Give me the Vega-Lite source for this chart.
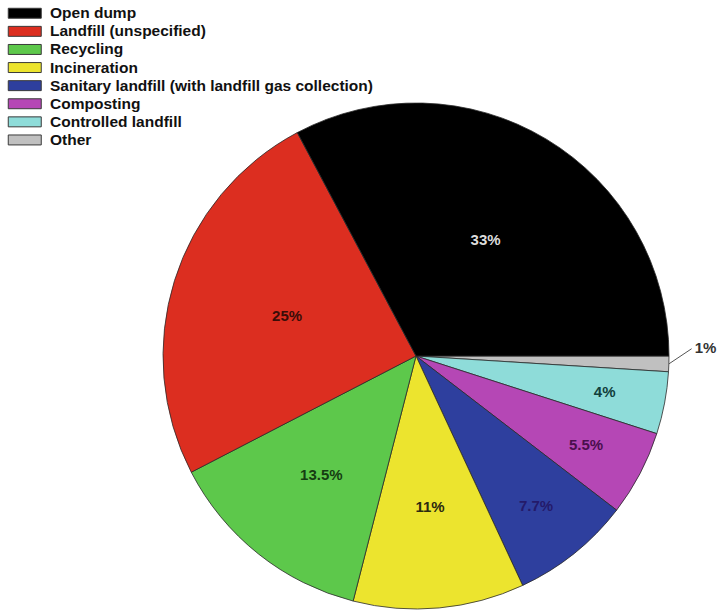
{
  "$schema": "https://vega.github.io/schema/vega-lite/v6.json",
  "autosize": {"type": "none"},
  "width": 506,
  "height": 506,
  "padding": {"left": 163, "top": 103, "right": 52, "bottom": 5},
  "background": "white",
  "config": {
    "view": {"stroke": null},
    "font": "Liberation Sans"
  },
  "data": {
    "values": [
      {"category": "Other", "share": 1, "rank": 1},
      {"category": "Controlled landfill", "share": 4, "rank": 2},
      {"category": "Composting", "share": 5.5, "rank": 3},
      {"category": "Sanitary landfill (with landfill gas collection)", "share": 7.7, "rank": 4},
      {"category": "Incineration", "share": 11, "rank": 5},
      {"category": "Recycling", "share": 13.5, "rank": 6},
      {"category": "Landfill (unspecified)", "share": 25, "rank": 7},
      {"category": "Open dump", "share": 33, "rank": 8}
    ]
  },
  "transform": [
    {"calculate": "datum.share + '%'", "as": "label"}
  ],
  "layer": [
    {
      "mark": {"type": "arc", "stroke": "#2a2a2a", "strokeWidth": 0.8},
      "encoding": {
        "theta": {"field": "share", "type": "quantitative", "stack": true,
                  "scale": {"range": [1.5707963, 7.8539816]}},
        "order": {"field": "rank", "type": "quantitative"},
        "color": {
          "field": "category", "type": "nominal",
          "scale": {
            "domain": ["Open dump", "Landfill (unspecified)", "Recycling", "Incineration",
                       "Sanitary landfill (with landfill gas collection)", "Composting",
                       "Controlled landfill", "Other"],
            "range": ["#000000", "#dc2e20", "#5dc84b", "#ece42e", "#2e3f9e", "#b547b5", "#8edcd9", "#c0c0c0"]
          },
          "legend": {
            "title": null,
            "orient": "none",
            "legendX": -146,
            "legendY": -97.5,
            "symbolType": "M-2.75,-0.83H2.75V0.83H-2.75Z",
            "symbolSize": 144,
            "symbolStrokeColor": "#3a3a3a",
            "symbolStrokeWidth": 1,
            "labelFont": "Liberation Sans",
            "labelFontWeight": "bold",
            "labelFontSize": 15.5,
            "labelColor": "#111111",
            "labelOffset": 17.5,
            "labelLimit": 400,
            "rowPadding": 1.1,
            "padding": 0
          }
        }
      }
    },
    {
      "mark": {"type": "text", "fontWeight": "bold", "fontSize": 15, "font": "Liberation Sans"},
      "encoding": {
        "theta": {"field": "share", "type": "quantitative", "stack": true},
        "order": {"field": "rank", "type": "quantitative"},
        "radius": {"value": 135},
        "text": {"condition": {"test": "datum.share >= 20", "field": "label"}, "value": ""},
        "color": {
          "field": "category", "type": "nominal", "legend": null,
          "scale": {
            "domain": ["Open dump", "Landfill (unspecified)"],
            "range": ["#dcdcdc", "#3a0d08"]
          }
        }
      }
    },
    {
      "mark": {"type": "text", "fontWeight": "bold", "fontSize": 15, "font": "Liberation Sans"},
      "encoding": {
        "theta": {"field": "share", "type": "quantitative", "stack": true},
        "order": {"field": "rank", "type": "quantitative"},
        "radius": {"value": 152},
        "text": {"condition": {"test": "datum.share >= 10 && datum.share < 20", "field": "label"}, "value": ""},
        "color": {
          "field": "category", "type": "nominal", "legend": null,
          "scale": {
            "domain": ["Recycling", "Incineration"],
            "range": ["#163d12", "#2d2a10"]
          }
        }
      }
    },
    {
      "mark": {"type": "text", "fontWeight": "bold", "fontSize": 15, "font": "Liberation Sans"},
      "encoding": {
        "theta": {"field": "share", "type": "quantitative", "stack": true},
        "order": {"field": "rank", "type": "quantitative"},
        "radius": {"value": 192},
        "text": {"condition": {"test": "datum.share < 10 && datum.share > 2", "field": "label"}, "value": ""},
        "color": {
          "field": "category", "type": "nominal", "legend": null,
          "scale": {
            "domain": ["Sanitary landfill (with landfill gas collection)", "Composting", "Controlled landfill", "Other"],
            "range": ["#241a6a", "#4a0f4e", "#123f3c", "#333333"]
          }
        }
      }
    },
    {
      "transform": [
        {"joinaggregate": [{"op": "sum", "field": "share", "as": "total"}]},
        {"window": [{"op": "sum", "field": "share", "as": "cum"}], "sort": [{"field": "rank"}], "frame": [null, 0]},
        {"filter": "datum.category === 'Other'"},
        {"calculate": "PI / 2 + 2 * PI * (datum.cum - datum.share / 2) / datum.total", "as": "mid"},
        {"calculate": "sin(datum.mid)", "as": "x1"},
        {"calculate": "cos(datum.mid)", "as": "y1"},
        {"calculate": "sin(datum.mid) * 1.09", "as": "x2"},
        {"calculate": "cos(datum.mid) + 0.06", "as": "y2"}
      ],
      "layer": [
        {
          "mark": {"type": "rule", "color": "#555555", "strokeWidth": 1},
          "encoding": {
            "x": {"field": "x1", "type": "quantitative", "axis": null, "scale": {"domain": [-1, 1], "nice": false, "zero": false}},
            "y": {"field": "y1", "type": "quantitative", "axis": null, "scale": {"domain": [-1, 1], "nice": false, "zero": false}},
            "x2": {"field": "x2"},
            "y2": {"field": "y2"}
          }
        },
        {
          "mark": {"type": "text", "align": "left", "baseline": "middle", "dx": 3, "dy": -1,
                   "fontWeight": "bold", "fontSize": 15, "font": "Liberation Sans", "color": "#333333"},
          "encoding": {
            "x": {"field": "x2", "type": "quantitative", "axis": null, "scale": {"domain": [-1, 1], "nice": false, "zero": false}},
            "y": {"field": "y2", "type": "quantitative", "axis": null, "scale": {"domain": [-1, 1], "nice": false, "zero": false}},
            "text": {"field": "label"}
          }
        }
      ]
    }
  ],
  "resolve": {"scale": {"color": "independent"}}
}
